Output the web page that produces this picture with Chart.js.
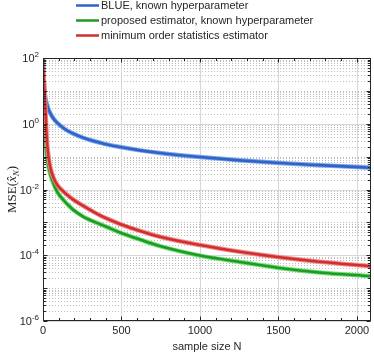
<!DOCTYPE html>
<html><head><meta charset="utf-8">
<script src="https://cdn.jsdelivr.net/npm/chart.js@4"></script>
<style>html,body{margin:0;padding:0;background:#fff}#wrap{width:374px;height:356px}</style>
</head><body><div id="wrap"><canvas id="c" width="374" height="356"></canvas></div>
<script>
// ---- data ----
const sampleSizes = [1, 3, 5, 8, 10, 15, 21, 27, 37, 46, 65, 91, 130, 155, 193, 256, 300, 364, 408, 491, 618, 745, 1000, 1253, 1507, 1761, 2090];
const blueMSE = [95, 32, 19, 12, 9.6, 6.4, 4.6, 3.6, 2.6, 2.1, 1.48, 1.06, 0.74, 0.62, 0.50, 0.375, 0.32, 0.265, 0.235, 0.196, 0.155, 0.129, 0.097, 0.077, 0.064, 0.055, 0.046];
const proposedMSE = [28, 8, 3.5, 1.5, 0.92, 0.34, 0.138, 0.079, 0.045, 0.0296, 0.0158, 0.0084, 0.0048, 0.0036, 0.0024, 0.0015, 0.00118, 0.00088, 0.00072, 0.00049, 0.00030, 0.00019, 0.0000977, 0.0000624, 0.0000409, 0.0000298, 0.0000232];
const minOrderMSE = [55, 35, 24, 15, 9, 3.5, 0.65, 0.23, 0.085, 0.048, 0.024, 0.0137, 0.0087, 0.0068, 0.0049, 0.0032, 0.0024, 0.00163, 0.0013, 0.00089, 0.00055, 0.000366, 0.000204, 0.000128, 0.000087, 0.0000637, 0.0000465];
const seriesLabels = ['BLUE, known hyperparameter', 'proposed estimator, known hyperparameter', 'minimum order statistics estimator'];
const xTickValues = [0, 500, 1000, 1500, 2000];
const yLabelExponents = [-6, -4, -2, 0, 2];
const xTitle = 'sample size N';

const X_MAX = 2090;
const TEXT = '#262626';
const FONT = '"Liberation Sans", Arial, sans-serif';
const mainColors = ['#2f64c6', '#1f9a24', '#d12f2f'];
const haloColors = ['#7ea6ec', '#74e07a', '#ef8a8a'];
const seriesValues = [blueMSE, proposedMSE, minOrderMSE];

const datasets = [];
seriesValues.forEach((vals, i) => {
  const pts = sampleSizes.map((n, k) => ({x: n, y: vals[k]}));
  datasets.push({label: seriesLabels[i] + ' (sim)', data: pts, borderColor: haloColors[i], borderWidth: 4.5,
    pointRadius: 0, cubicInterpolationMode: 'monotone', order: 5 - 2 * i, isHalo: true});
  datasets.push({label: seriesLabels[i], data: pts, borderColor: mainColors[i], borderWidth: 2.6,
    pointRadius: 0, cubicInterpolationMode: 'monotone', order: 4 - 2 * i});
});

const gridPlugin = {
  id: 'matlabGrid',
  beforeDatasetsDraw(chart) {
    const {ctx, chartArea: a, scales: {x, y}} = chart;
    ctx.save();
    ctx.lineWidth = 1;
    // minor y grid (dotted)
    ctx.strokeStyle = '#bdbdbd';
    ctx.setLineDash([1, 2]);
    for (let e = -6; e < 2; e++) {
      for (let m = 1; m <= 9; m++) {
        if (m === 1 && yLabelExponents.includes(e)) continue;
        const py = Math.round(y.getPixelForValue(m * Math.pow(10, e))) + 0.5;
        ctx.beginPath(); ctx.moveTo(a.left, py); ctx.lineTo(a.right, py); ctx.stroke();
      }
    }
    ctx.setLineDash([]);
    // major grid
    ctx.strokeStyle = '#d8d8d8';
    yLabelExponents.forEach(e => {
      const py = Math.round(y.getPixelForValue(Math.pow(10, e))) + 0.5;
      ctx.beginPath(); ctx.moveTo(a.left, py); ctx.lineTo(a.right, py); ctx.stroke();
    });
    xTickValues.forEach(v => {
      const px = Math.round(x.getPixelForValue(v)) + 0.5;
      ctx.beginPath(); ctx.moveTo(px, a.top); ctx.lineTo(px, a.bottom); ctx.stroke();
    });
    ctx.restore();
  },
  afterDatasetsDraw(chart) {
    const {ctx, chartArea: a, scales: {x, y}} = chart;
    ctx.save();
    ctx.strokeStyle = TEXT;
    ctx.lineWidth = 1;
    const L = Math.round(a.left) + 0.5, R = Math.round(a.right) - 0.5;
    const T = Math.round(a.top) + 0.5, B = Math.round(a.bottom) - 0.5;
    ctx.strokeRect(L, T, R - L, B - T);
    // x ticks (inward), bottom and top
    for (let v = 0; v <= X_MAX; v += 100) {
      const px = Math.round(x.getPixelForValue(v)) + 0.5;
      const len = (v % 500 === 0) ? 4 : 2.5;
      ctx.beginPath();
      ctx.moveTo(px, B); ctx.lineTo(px, B - len);
      ctx.moveTo(px, T); ctx.lineTo(px, T + len);
      ctx.stroke();
    }
    // y ticks (inward), left and right
    for (let e = -6; e <= 2; e++) {
      for (let m = 1; m <= 9; m++) {
        if (e === 2 && m > 1) break;
        const py = Math.round(y.getPixelForValue(m * Math.pow(10, e))) + 0.5;
        const len = (m === 1) ? 4 : 2.5;
        ctx.beginPath();
        ctx.moveTo(L, py); ctx.lineTo(L + len, py);
        ctx.moveTo(R, py); ctx.lineTo(R - len, py);
        ctx.stroke();
      }
    }
    // y tick labels 10^e
    ctx.fillStyle = TEXT;
    ctx.textAlign = 'right';
    ctx.textBaseline = 'alphabetic';
    yLabelExponents.forEach(e => {
      const py = y.getPixelForValue(Math.pow(10, e));
      const expText = e < 0 ? '-' + Math.abs(e) : String(e);
      ctx.font = '8px ' + FONT;
      const w = ctx.measureText(expText).width;
      ctx.fillText(expText, 39, py - 1);
      ctx.font = '11px ' + FONT;
      ctx.fillText('10', 39 - w, py + 4);
    });
    // y axis title: MSE(x̂_N)
    ctx.save();
    ctx.translate(11, (a.top + a.bottom) / 2);
    ctx.rotate(-Math.PI / 2);
    ctx.textAlign = 'left';
    ctx.textBaseline = 'alphabetic';
    const serif = '"Liberation Serif", "DejaVu Serif", serif';
    const parts = [
      {t: 'MSE(', f: '13px ' + serif, dy: 0},
      {t: 'x\u0302', f: 'italic 13px ' + serif, dy: 0},
      {t: 'N', f: 'italic 9px ' + serif, dy: 3},
      {t: ')', f: '13px ' + serif, dy: 0}
    ];
    let total = 0;
    parts.forEach(p => { ctx.font = p.f; p.w = ctx.measureText(p.t).width; total += p.w; });
    let cx = -total / 2;
    parts.forEach(p => { ctx.font = p.f; ctx.fillText(p.t, cx, 4.5 + p.dy); cx += p.w; });
    ctx.restore();
    ctx.restore();
  },
  afterDraw(chart) {
    const {ctx} = chart;
    ctx.save();
    const mains = chart.data.datasets.filter(d => !d.isHalo);
    mains.forEach((d, i) => {
      const cy = 5.5 + 15 * i;
      ctx.strokeStyle = d.borderColor;
      ctx.lineWidth = 2.5;
      ctx.beginPath(); ctx.moveTo(76, cy); ctx.lineTo(99, cy); ctx.stroke();
      ctx.fillStyle = TEXT;
      ctx.font = '11px ' + FONT;
      ctx.textAlign = 'left';
      ctx.textBaseline = 'middle';
      ctx.fillText(d.label, 101, cy + 0.5);
    });
    ctx.restore();
  }
};

new Chart(document.getElementById('c'), {
  type: 'line',
  data: {datasets},
  options: {
    responsive: false,
    animation: false,
    devicePixelRatio: 1,
    layout: {padding: {left: 0, top: 58, right: 3, bottom: 0}},
    plugins: {legend: {display: false}, tooltip: {enabled: false}},
    scales: {
      x: {
        type: 'linear', min: 0, max: X_MAX,
        afterBuildTicks: s => { s.ticks = xTickValues.map(v => ({value: v})); },
        afterFit: s => { s.height = 35; },
        grid: {display: false, drawTicks: false},
        border: {display: false},
        ticks: {color: TEXT, font: {family: FONT, size: 11}, padding: 3, maxRotation: 0,
          callback: v => String(v)},
        title: {display: true, text: xTitle, color: TEXT, font: {family: FONT, size: 11}, padding: {top: 0, bottom: 2}}
      },
      y: {
        type: 'logarithmic', min: 1e-6, max: 1e2,
        afterFit: s => { s.width = 43; },
        grid: {display: false, drawTicks: false},
        border: {display: false},
        ticks: {display: false}
      }
    }
  },
  plugins: [gridPlugin]
});
</script>
</body></html>
